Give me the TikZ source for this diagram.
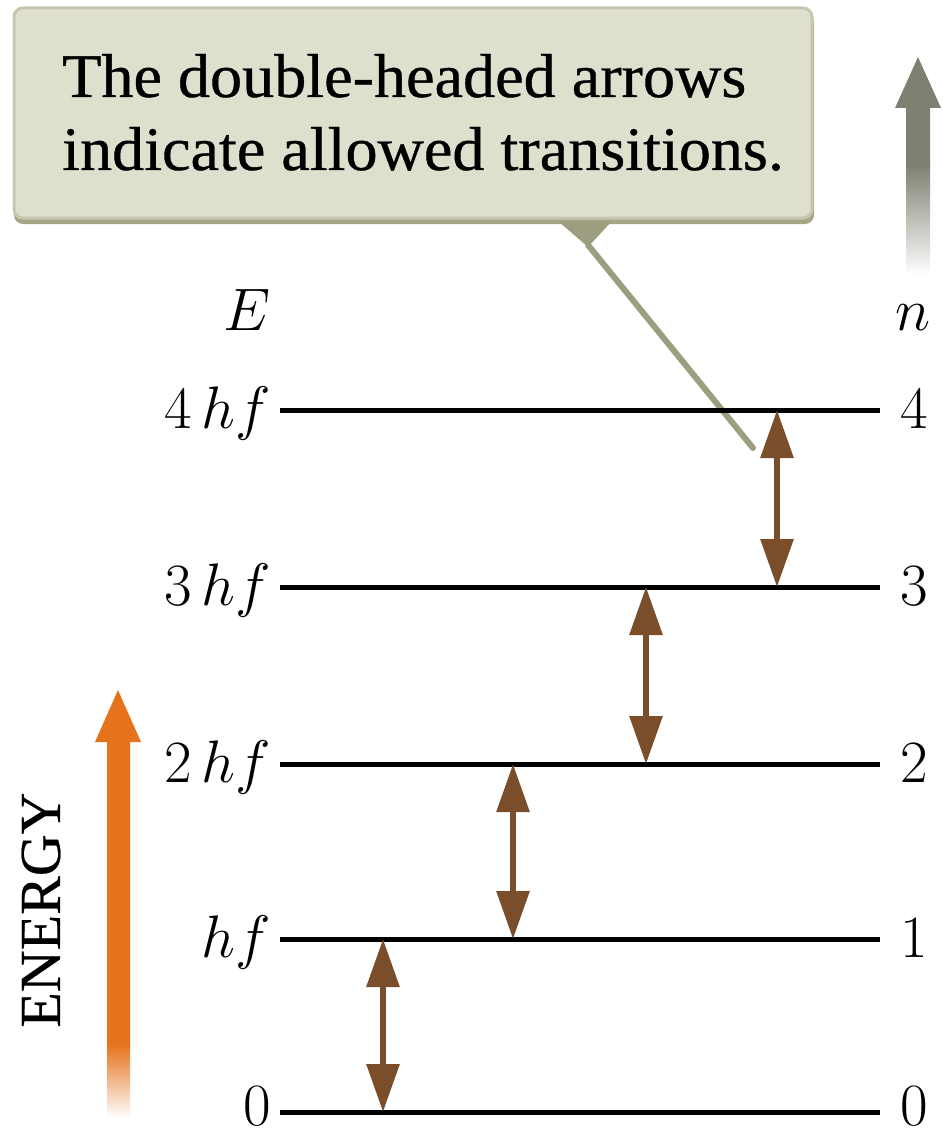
\RequirePackage{fix-cm}
\documentclass[tikz,border=0pt]{standalone}
\usepackage{fontspec}
\setmainfont{Liberation Serif}
\newfontfamily\capfont[FakeStretch=1.035,FakeBold=0.6]{Liberation Serif}
\newfontfamily\energyfont[FakeBold=0.4]{Liberation Serif}
\usetikzlibrary{arrows.meta}
\definecolor{boxfill}{HTML}{DEDFCD}
\definecolor{boxedge}{HTML}{C6C7AE}
\definecolor{boxshadow}{HTML}{A4A687}
\definecolor{pointer}{HTML}{9C9E7F}
\definecolor{brownarr}{HTML}{7A4E2A}
\definecolor{energycol}{HTML}{E5721C}
\definecolor{narrowcol}{HTML}{7C8171}
\begin{document}
\begin{tikzpicture}[x=1pt,y=-1pt,
  level/.style={line width=5pt,black},
  trans/.style={brownarr,line width=6pt,{Triangle[width=32pt,length=48pt]}-{Triangle[width=32pt,length=48pt]}},
  lbl/.style={font=\fontsize{60}{60}\selectfont, inner sep=0pt},
  captxt/.style={font=\capfont\fontsize{62}{73}\selectfont, inner sep=0pt, anchor=base west}]
\useasboundingbox (0,0) rectangle (942,1134);
% callout box
\fill[boxshadow, rounded corners=9pt] (14,14) rectangle (814,224);
\draw[boxedge, fill=boxfill, line width=3pt, rounded corners=9pt] (14,8) rectangle (812,218);
\node[captxt] (cap1) at (62,97) {The double-headed arrows};
\node[captxt] (cap2) at (62,170) {indicate allowed transitions.};
\fill[pointer] (558,221) -- (612,221) -- (588,247) -- cycle;
\coordinate (ptip) at (588,245);
\coordinate (pend) at (753,448);
\draw[pointer, line width=6pt, line cap=round] (ptip) -- (pend);
% top-right n arrow
\fill[narrowcol] (918,57) -- (941,108) -- (930,108) -- (930,166) -- (906,166) -- (906,108) -- (895,108) -- cycle;
\shade[top color=narrowcol, bottom color=white] (906,165) rectangle (930,275);
% energy arrow
\fill[energycol] (118,690) -- (141,742) -- (130,742) -- (130,1045) -- (107,1045) -- (107,742) -- (95,742) -- cycle;
\shade[top color=energycol, bottom color=white] (107,1044) rectangle (130,1118);
\node[rotate=90, font=\energyfont\fontsize{58}{58}\selectfont, inner sep=0pt] (energylbl) at (41,910) {ENERGY};
% axis labels
\node[lbl, anchor=base] (Elbl) at (247,330) {$E$};
\node[lbl, anchor=base] (nlbl) at (913,330) {$n$};
% levels
\foreach \i/\y/\b/\t in {0/1112/1125/0,1/939/957/hf,2/764/782/2\mkern3mu hf,3/587/605/3\mkern3mu hf,4/410/428/4\mkern3mu hf} {
  \coordinate (L\i) at (280,\y);
  \coordinate (R\i) at (880,\y);
  \draw[level] (L\i) -- (R\i);
  \node[lbl, anchor=base east] (lab\i) at (271,\b) {$\t$};
  \node[lbl, anchor=base west] (num\i) at (900,\b) {$\i$};
}
% transitions
\coordinate (t0a) at (383,1112); \coordinate (t0b) at (383,939);
\coordinate (t1a) at (513,939);  \coordinate (t1b) at (513,764);
\coordinate (t2a) at (646,764);  \coordinate (t2b) at (646,587);
\coordinate (t3a) at (777,587);  \coordinate (t3b) at (777,410);
\draw[trans] (t0a) -- (t0b);
\draw[trans] (t1a) -- (t1b);
\draw[trans] (t2a) -- (t2b);
\draw[trans] (t3a) -- (t3b);
\end{tikzpicture}
\end{document}
